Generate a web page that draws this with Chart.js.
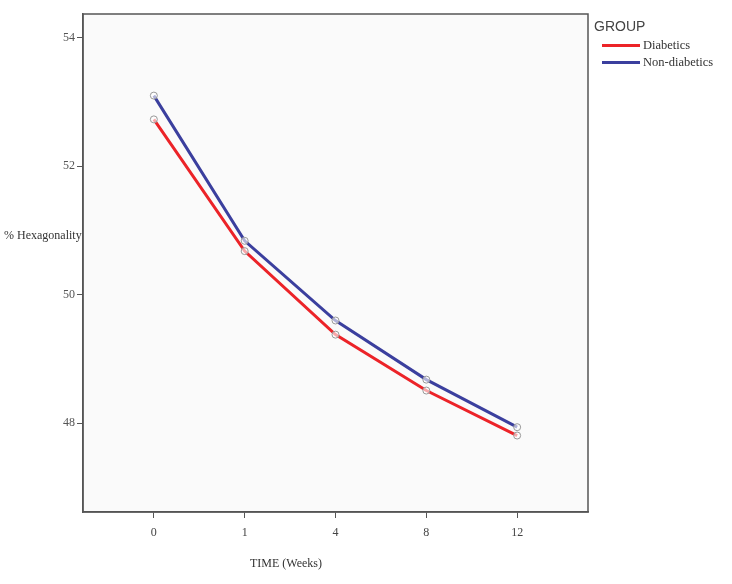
<!DOCTYPE html>
<html>
<head>
<meta charset="utf-8">
<script src="https://cdn.jsdelivr.net/npm/chart.js@4/dist/chart.umd.min.js"></script>
<style>
  html, body { margin: 0; padding: 0; background: #fff; }
  #wrap { position: relative; width: 732px; height: 584px; }
  #chart { position: absolute; left: 0; top: 0; }
  .lbl { position: absolute; font-family: "Liberation Serif", "DejaVu Serif", serif; color: #333; white-space: nowrap; }
  #ytitle { left: 4px; top: 228px; font-size: 12px; }
  #xtitle { left: 250px; top: 556px; font-size: 12px; }
  #legend { position: absolute; left: 594px; top: 18px; }
  #legend .head { font-family: "Liberation Sans", Arial, sans-serif; font-size: 14px; color: #444; margin-bottom: 3px; }
  #legend .item { display: flex; align-items: center; height: 17px; font-family: "Liberation Serif", serif; font-size: 12.5px; color: #333; }
  #legend .sw { width: 38px; height: 3px; margin: 0 3px 0 8px; }
</style>
</head>
<body>
<div id="wrap">
  <canvas id="chart" width="732" height="584"></canvas>
  <div class="lbl" id="ytitle">% Hexagonality</div>
  <div class="lbl" id="xtitle">TIME (Weeks)</div>
  <div id="legend"></div>
</div>
<script>
  const weeks = ["0", "1", "4", "8", "12"];
  const diabetics = [52.73, 50.68, 49.38, 48.51, 47.81];
  const nonDiabetics = [53.10, 50.84, 49.60, 48.68, 47.94];
  const yTicks = [48, 50, 52, 54];
  const groups = ["Diabetics", "Non-diabetics"];
  const colors = ["#ec2328", "#3b3f9e"];

  // legend in html
  const legend = document.getElementById("legend");
  legend.innerHTML = '<div class="head">GROUP</div>' +
    groups.map((g, i) => '<div class="item"><span class="sw" style="background:' + colors[i] + '"></span>' + g + "</div>").join("");

  const toPoints = (arr) => arr.map((v, i) => ({ x: i, y: v }));

  const frame = {
    id: "frame",
    afterDraw(chart) {
      const { ctx, chartArea: a } = chart;
      ctx.save();
      ctx.strokeStyle = "#555";
      ctx.lineWidth = 1.5;
      ctx.strokeRect(a.left, a.top, a.right - a.left, a.bottom - a.top);
      ctx.restore();
    },
    beforeDraw(chart) {
      const { ctx, chartArea: a } = chart;
      ctx.save();
      ctx.fillStyle = "#fafafa";
      ctx.fillRect(a.left, a.top, a.right - a.left, a.bottom - a.top);
      ctx.restore();
    },
  };

  new Chart(document.getElementById("chart"), {
    type: "line",
    data: {
      datasets: [
        { label: groups[0], data: toPoints(diabetics), borderColor: colors[0] },
        { label: groups[1], data: toPoints(nonDiabetics), borderColor: colors[1] },
      ].map((d) => ({
        ...d,
        borderWidth: 3,
        tension: 0,
        pointRadius: 3.5,
        pointBackgroundColor: "rgba(255,255,255,0.6)",
        pointBorderColor: "#999",
        pointBorderWidth: 1,
      })),
    },
    options: {
      responsive: false,
      animation: false,
      layout: { padding: { top: 14, right: 144, left: 0, bottom: 0 } },
      plugins: { legend: { display: false }, tooltip: { enabled: false } },
      scales: {
        x: {
          type: "linear",
          min: -0.78,
          max: 4.78,
          afterBuildTicks: (s) => { s.ticks = weeks.map((_, i) => ({ value: i })); },
          afterFit: (s) => { s.height = 72; },
          ticks: {
            callback: (v) => weeks[v],
            color: "#444",
            padding: 8,
            font: { family: "Liberation Serif", size: 12 },
            maxRotation: 0,
          },
          grid: { drawOnChartArea: false, tickLength: 6, color: "#555" },
          border: { color: "#555", width: 1.5 },
        },
        y: {
          min: 46.62,
          max: 54.37,
          afterBuildTicks: (s) => { s.ticks = yTicks.map((v) => ({ value: v })); },
          afterFit: (s) => { s.width = 83; },
          ticks: {
            color: "#555",
            padding: 2,
            font: { family: "Liberation Serif", size: 12 },
          },
          grid: { drawOnChartArea: false, tickLength: 6, color: "#555" },
          border: { color: "#555", width: 1.5 },
        },
      },
    },
    plugins: [frame],
  });
</script>
</body>
</html>
